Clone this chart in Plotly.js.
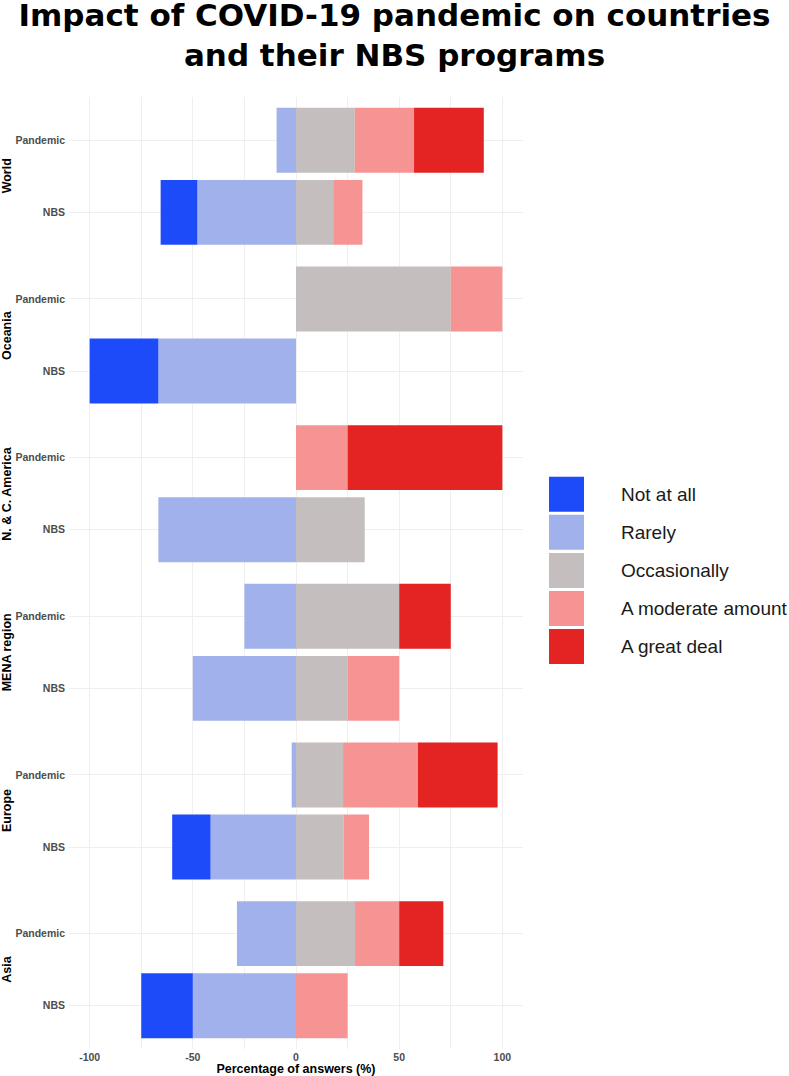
<!DOCTYPE html>
<html>
<head>
<meta charset="utf-8">
<script src="https://cdn.plot.ly/plotly-3.0.1.min.js"></script>
<style>html,body{margin:0;padding:0;background:#fff;}#chart{width:789px;height:1076px;}</style>
</head>
<body>
<div id="chart"></div>
<script>
// ---- data ----
const regions = ["World", "Oceania", "N. & C. America", "MENA region", "Europe", "Asia"];
const rowLabels = ["Pandemic", "NBS"];
const responses = ["Not at all", "Rarely", "Occasionally", "A moderate amount", "A great deal"];
const responseColors = ["#1E4BFA", "#A1B1EC", "#C5BEBE", "#F69494", "#E42323"];

// percentage of answers per region (World, Oceania, N&C America, MENA, Europe, Asia)
const notAtAllPandemic     = [0,    0,    0,    0,    0,    0];
const notAtAllNBS          = [17.8, 33.3, 0,    0,    18.6, 25.0];
const rarelyPandemic       = [9.4,  0,    0,    25.0, 2.1,  28.6];
const rarelyNBS            = [47.8, 66.7, 66.7, 50.0, 41.4, 50.0];
const occasionallyPandemic = [28.5, 75.0, 0,    50.0, 22.8, 28.6];
const occasionallyNBS      = [18.0, 0,    33.3, 25.0, 23.0, 0];
const moderatePandemic     = [28.7, 25.0, 25.0, 0,    36.3, 21.4];
const moderateNBS          = [14.2, 0,    0,    25.0, 12.4, 25.0];
const greatDealPandemic    = [33.8, 0,    75.0, 25.0, 38.6, 21.4];
const greatDealNBS         = [0,    0,    0,    0,    0,    0];

const xTickVals = [-100, -50, 0, 50, 100];
const xTickText = ["-100", "-50", "0", "50", "100"];
const xMinorTickVals = [-75, -25, 25, 75];

const titleText = "Impact of COVID-19 pandemic on countries<br>and their NBS programs";
const xTitleText = "Percentage of answers (%)";

// ---- build ----
const seriesByResponse = {
  "Not at all": [notAtAllPandemic, notAtAllNBS],
  "Rarely": [rarelyPandemic, rarelyNBS],
  "Occasionally": [occasionallyPandemic, occasionallyNBS],
  "A moderate amount": [moderatePandemic, moderateNBS],
  "A great deal": [greatDealPandemic, greatDealNBS]
};
const negativeSide = {"Not at all": true, "Rarely": true};
// stacking order: inner-most first on each side
const stackOrder = ["Rarely", "Not at all", "Occasionally", "A moderate amount", "A great deal"];

const W = 789, H = 1076;
const M = {l: 69, r: 266, t: 97, b: 27};
const plotW = W - M.l - M.r, plotH = H - M.t - M.b;
const px2x = p => (p - M.l) / plotW;
const py2y = p => (H - M.b - p) / plotH;

const gridColor = "#EFEFEF";
const tickFont = {family: "Liberation Sans, Arial, sans-serif", size: 10.5, color: "#4D4D4D", weight: "bold"};

const traces = [];
const layout = {
  width: W, height: H,
  margin: M,
  paper_bgcolor: "#FFFFFF",
  plot_bgcolor: "#FFFFFF",
  barmode: "relative",
  showlegend: false,
  title: {
    text: titleText,
    font: {family: "DejaVu Sans, sans-serif", size: 31, color: "#000000", weight: "bold"},
    x: 0.5, xanchor: "center", xref: "container",
    y: 1 - 26 / H, yanchor: "top", yref: "container"
  },
  xaxis: {
    domain: [0, 1],
    anchor: "y" + regions.length,
    range: [-110, 110],
    tickmode: "array", tickvals: xTickVals, ticktext: xTickText,
    showgrid: true, gridcolor: gridColor, gridwidth: 1,
    minor: {tickmode: "array", tickvals: xMinorTickVals, showgrid: true, gridcolor: gridColor, gridwidth: 1, ticks: ""},
    zeroline: false, showline: false, ticks: "",
    tickfont: tickFont,
    title: {text: xTitleText, font: {family: "Liberation Sans, Arial, sans-serif", size: 12.5, color: "#000000", weight: "bold"}, standoff: 2},
    fixedrange: true
  },
  annotations: [],
  shapes: []
};

regions.forEach((region, r) => {
  const yName = r === 0 ? "y" : "y" + (r + 1);
  const yKey = r === 0 ? "yaxis" : "yaxis" + (r + 1);
  const top = 1 - r / regions.length;
  const bottom = 1 - (r + 1) / regions.length;
  layout[yKey] = {
    domain: [bottom, top],
    anchor: "x",
    type: "category",
    categoryorder: "array",
    categoryarray: rowLabels.slice().reverse(),
    range: [-0.6, 1.6],
    showgrid: true, gridcolor: gridColor, gridwidth: 1,
    zeroline: false, showline: false, ticks: "",
    ticklabelstandoff: 3,
    tickfont: tickFont,
    fixedrange: true
  };
  stackOrder.forEach(resp => {
    const k = responses.indexOf(resp);
    const pair = seriesByResponse[resp];
    const sign = negativeSide[resp] ? -1 : 1;
    traces.push({
      type: "bar",
      orientation: "h",
      name: resp,
      x: rowLabels.map((_, i) => sign * pair[i][r]),
      y: rowLabels,
      xaxis: "x",
      yaxis: yName,
      width: 0.9,
      marker: {color: responseColors[k], line: {width: 0}},
      hovertemplate: region + " – %{y}<br>" + resp + ": %{x:.1f}%<extra></extra>"
    });
  });
  layout.annotations.push({
    text: region,
    xref: "paper", yref: "paper",
    x: px2x(7), y: (top + bottom) / 2,
    xanchor: "center", yanchor: "middle",
    textangle: -90, showarrow: false,
    font: {family: "Liberation Sans, Arial, sans-serif", size: 12.5, color: "#000000", weight: "bold"}
  });
});

// custom legend (large square keys)
const legendTop = 476.7, legendPitch = 38.1, keyH = 35;
responses.forEach((resp, i) => {
  const y0 = legendTop + i * legendPitch;
  layout.shapes.push({
    type: "rect", xref: "paper", yref: "paper",
    x0: px2x(549), x1: px2x(584),
    y0: py2y(y0 + keyH), y1: py2y(y0),
    fillcolor: responseColors[i], line: {width: 0}
  });
  layout.annotations.push({
    text: resp, xref: "paper", yref: "paper",
    x: px2x(619), y: py2y(y0 + keyH / 2),
    xanchor: "left", yanchor: "middle", showarrow: false,
    font: {family: "Liberation Sans, Arial, sans-serif", size: 19, color: "#1A1A1A"}
  });
});

Plotly.newPlot("chart", traces, layout, {displayModeBar: false, staticPlot: true});
</script>
</body>
</html>
